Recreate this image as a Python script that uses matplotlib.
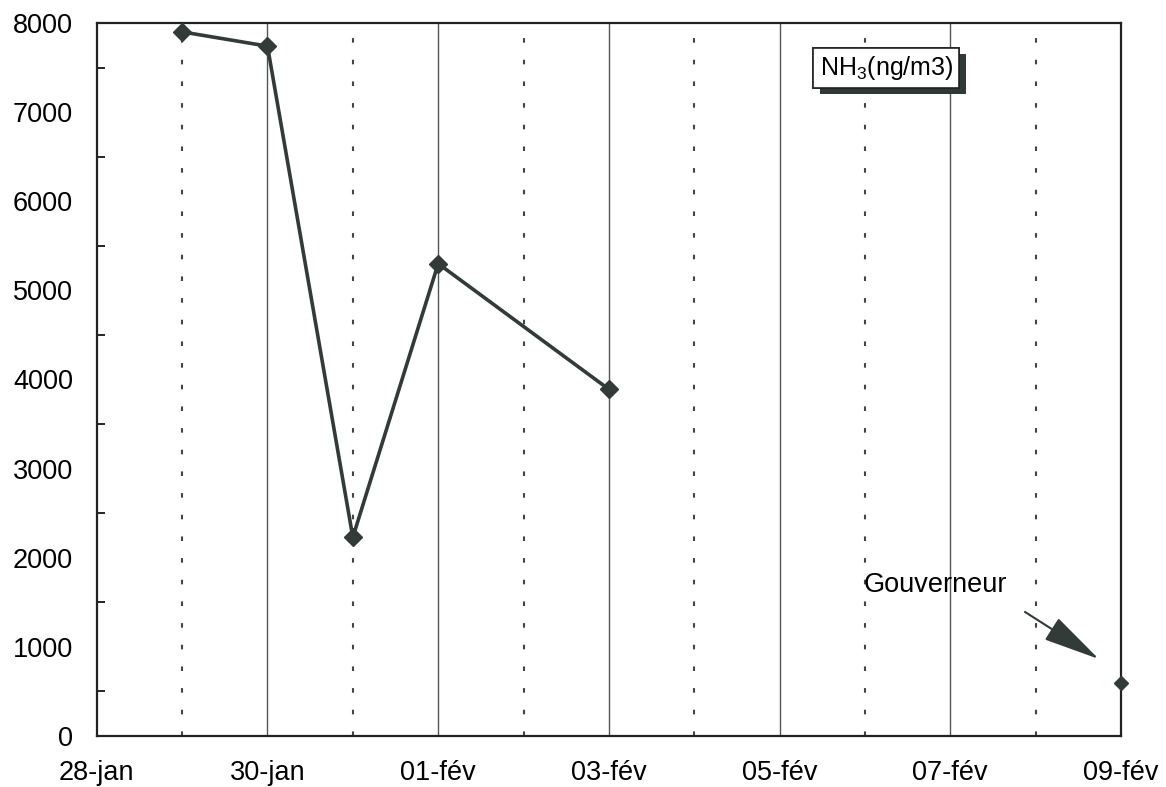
import numpy as np
import matplotlib.pyplot as plt
import matplotlib.patheffects as pe

plt.rcParams['font.family'] = ['Liberation Sans', 'DejaVu Sans']
plt.rcParams['mathtext.fontset'] = 'custom'
plt.rcParams['mathtext.rm'] = 'Liberation Sans'

# days counted from 28-jan
day_labels = ['28-jan', '30-jan', '01-fév', '03-fév', '05-fév', '07-fév', '09-fév']
label_days = [0, 2, 4, 6, 8, 10, 12]

site_days = [1, 2, 3, 4, 6]
site_nh3 = [7900, 7740, 2230, 5300, 3890]

gouv_days = [12]
gouv_nh3 = [600]

dark = '#333b39'

fig = plt.figure(figsize=(11.66, 7.87), dpi=100)
ax = fig.add_axes([0.083, 0.0648, 0.8784, 0.906])

# grid: solid every 2 days, dotted between
for d in range(1, 12):
    if d % 2 == 0:
        ax.axvline(d, color='#555555', lw=1.0, zorder=1)
    else:
        ax.axvline(d, color='#444444', lw=1.5, ls=(0, (2.2, 8.2)), zorder=1)

ax.plot(site_days, site_nh3, color=dark, lw=2.6, marker='D', ms=9,
        mfc=dark, mec=dark, zorder=3)
ax.plot(gouv_days, gouv_nh3, ls='none', marker='D', ms=7,
        mfc=dark, mec=dark, zorder=3, clip_on=False)

ax.set_xlim(0, 12)
ax.set_ylim(0, 8000)
ax.set_xticks(label_days)
ax.set_xticklabels(day_labels)
ax.set_yticks(np.arange(0, 8001, 1000))
ax.set_yticks(np.arange(500, 8000, 1000), minor=True)
ax.tick_params(axis='x', length=0, pad=17, labelsize=19.5)
ax.tick_params(axis='y', which='major', length=0, pad=17, labelsize=19.5)
ax.tick_params(axis='y', which='minor', length=6, direction='in', width=1.2)
for s in ax.spines.values():
    s.set_linewidth(1.6)
    s.set_color('#222222')

# legend-like label box with shadow
t = ax.text(0.771, 0.937, r'NH$_\mathrm{3}$(ng/m3)', transform=ax.transAxes,
            ha='center', va='center', fontsize=18, zorder=5,
            bbox=dict(boxstyle='square,pad=0.25', fc='white', ec='#222222', lw=1.2))
t.get_bbox_patch().set_path_effects([
    pe.withSimplePatchShadow(offset=(4.5, -4.5), shadow_rgbFace='#2f3a38', alpha=1.0),
    pe.Normal()])

ax.text(8.98, 1690, 'Gouverneur', fontsize=19.5, ha='left', va='center')
ax.annotate('', xy=(11.74, 864), xytext=(10.875, 1392),
            arrowprops=dict(arrowstyle='-|>,head_length=2.0,head_width=0.45',
                            color=dark, lw=1.5, mutation_scale=18,
                            shrinkA=0, shrinkB=0))

fig.savefig('out.png', dpi=100)
